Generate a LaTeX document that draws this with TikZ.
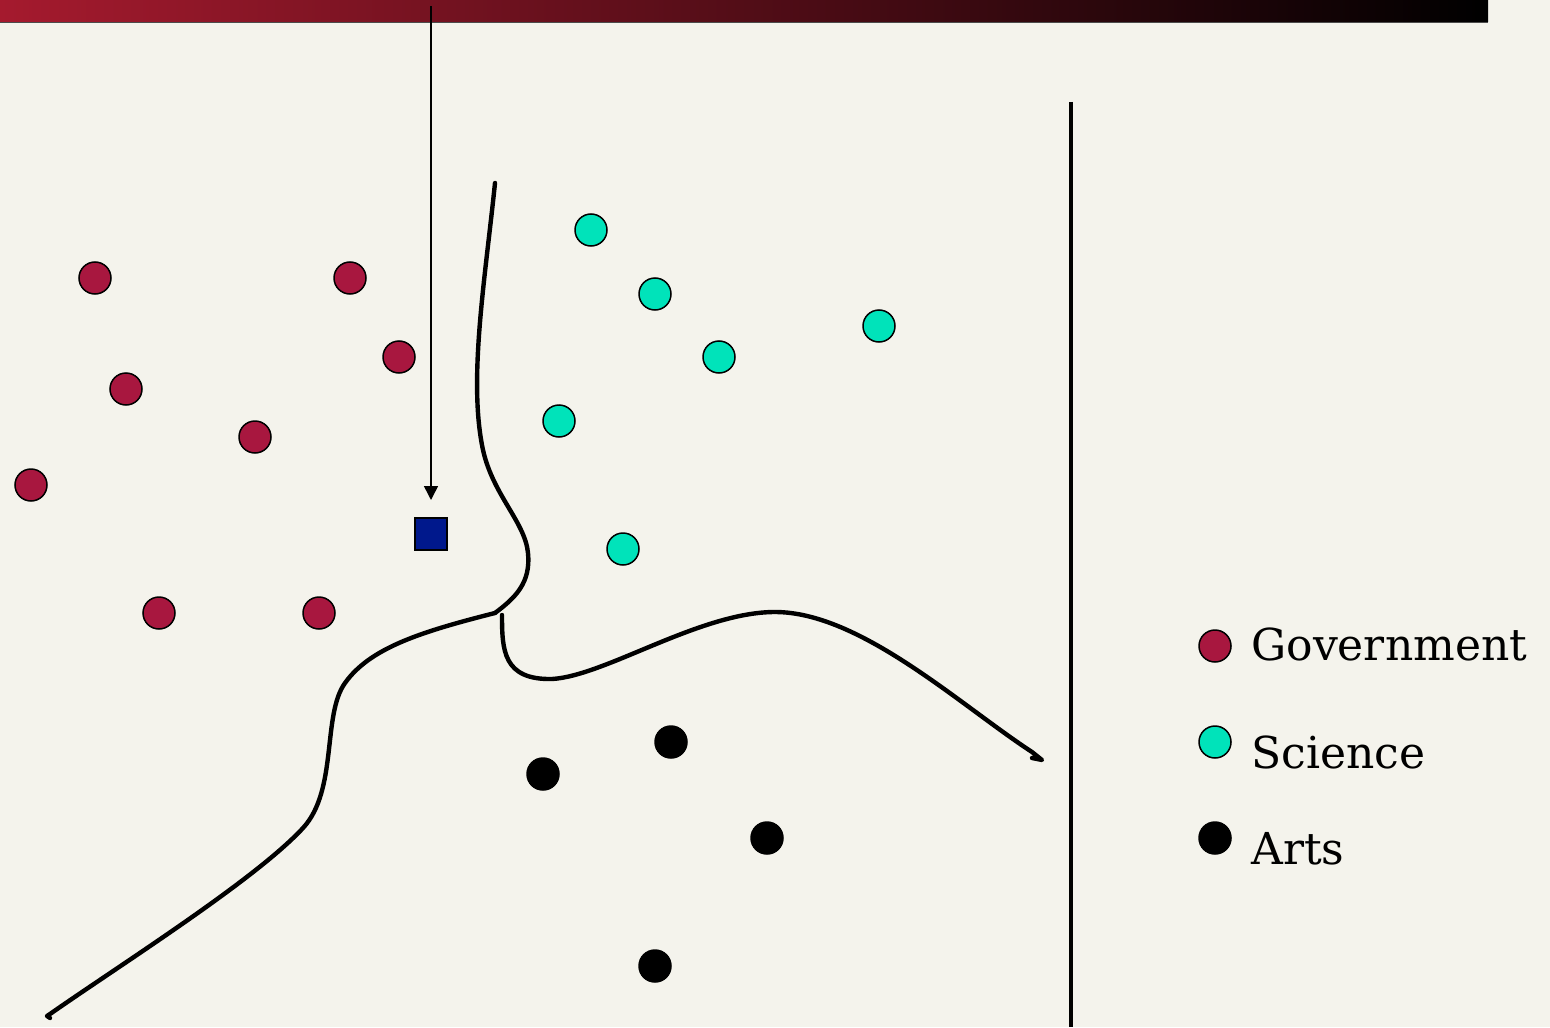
\documentclass[tikz,border=0pt]{standalone}
\usepackage{fontspec}
\setmainfont{DejaVu Serif}
\usetikzlibrary{arrows.meta}
\definecolor{bg}{HTML}{F4F3EC}
\definecolor{gov}{HTML}{A8173F}
\definecolor{sci}{HTML}{00E3BA}
\definecolor{sq}{HTML}{00188C}
\definecolor{barred}{HTML}{A51A2E}
\tikzset{
  govdot/.style={circle,draw=black,line width=0.75pt,fill=gov,minimum size=16pt,inner sep=0pt},
  scidot/.style={circle,draw=black,line width=0.75pt,fill=sci,minimum size=16pt,inner sep=0pt},
  artdot/.style={circle,draw=black,line width=0.75pt,fill=black,minimum size=16pt,inner sep=0pt},
  border/.style={line width=2.2pt,line cap=round,line join=round},
  legtext/.style={anchor=base west,inner sep=0pt,font=\fontsize{22}{26}\selectfont}
}
\begin{document}
\begin{tikzpicture}[x=0.5pt,y=-0.5pt]
\useasboundingbox (0,0) rectangle (1550,1027);
\fill[bg] (0,0) rectangle (1550,1027);
% top bar
\shade[left color=barred,right color=black] (0,0) rectangle (1488,22);
\draw[line width=0.8pt,color=black!70] (0,22.5) -- (1488,22.5);
% separator
\draw[line width=2pt] (1071,102) -- (1071,1027);
% government
\node[govdot] (g1) at (95,278) {};
\node[govdot] (g2) at (350,278) {};
\node[govdot] (g3) at (399,357) {};
\node[govdot] (g4) at (126,389) {};
\node[govdot] (g5) at (255,437) {};
\node[govdot] (g6) at (31,485) {};
\node[govdot] (g7) at (159,613) {};
\node[govdot] (g8) at (319,613) {};
% science
\node[scidot] (s1) at (591,230) {};
\node[scidot] (s2) at (655,294) {};
\node[scidot] (s3) at (879,326) {};
\node[scidot] (s4) at (719,357) {};
\node[scidot] (s5) at (559,421) {};
\node[scidot] (s6) at (623,549) {};
% arts
\node[artdot] (a1) at (671,742) {};
\node[artdot] (a2) at (543,774) {};
\node[artdot] (a3) at (767,838) {};
\node[artdot] (a4) at (655,966) {};
% query square
\node[draw=black,line width=1pt,fill=sq,minimum size=16pt,inner sep=0pt] (q) at (431,534) {};
\coordinate (top) at (431,6);
\draw[line width=0.75pt,-{Triangle[length=7pt,width=7pt]}] (top) -- ([yshift=8.5pt]q.north);
% boundaries
\draw[border] (495,183) .. controls (485,280) and (468,380) .. (483,450)
  .. controls (493,495) and (525,522) .. (528,553)
  .. controls (531,583) and (515,598) .. (495,613);
\draw[border] (495,613) .. controls (420,632) and (370,648) .. (345,683)
  .. controls (322,715) and (338,790) .. (303,828)
  .. controls (255,880) and (120,965) .. (50,1014) -- (47,1016) -- (50,1018);
\draw[border] (502,615) .. controls (502,650) and (503,680) .. (552,679)
  .. controls (605,676) and (700,612) .. (775,612)
  .. controls (860,612) and (960,705) .. (1032,752) -- (1042,760) -- (1032,758);
% legend
\node[govdot] (lg) at (1215,646) {};
\node[scidot] (ls) at (1215,742) {};
\node[artdot] (la) at (1215,838) {};
\node[legtext] (tg) at (1251,660) {Government};
\node[legtext] (ts) at (1251,768) {Science};
\node[legtext] (ta) at (1251,864) {Arts};
\end{tikzpicture}
\end{document}
